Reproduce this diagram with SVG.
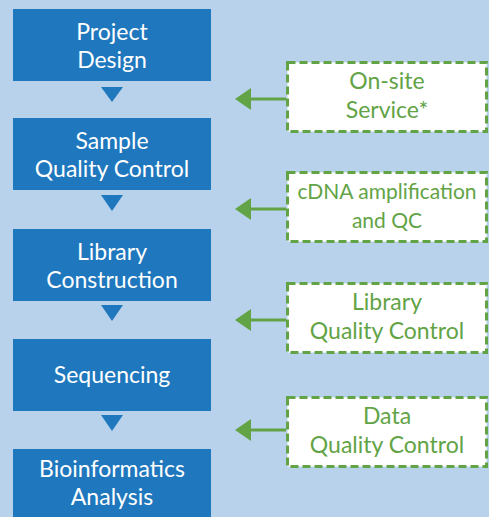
<svg xmlns="http://www.w3.org/2000/svg" width="489" height="517" viewBox="0 0 489 517">
<style>
.bg{fill:#b9d2eb}
.step{fill:#1f77bd}
.st{font-family:Lato,"Open Sans",sans-serif;font-size:23px;fill:#ffffff;text-anchor:middle}
.qc{fill:#ffffff;stroke:#62a346;stroke-width:3;stroke-dasharray:8,4}
.gt{font-family:Lato,"Open Sans",sans-serif;font-size:23px;fill:#62a346;text-anchor:middle}
.sm{font-size:21px}
.tri{fill:#1f77bd}
.ln{stroke:#62a346;stroke-width:3;fill:none}
.ah{fill:#62a346}
</style>
<rect class="bg" x="0" y="0" width="489" height="517"/>
<g id="project-design"><rect class="step" x="13" y="9" width="198" height="72"/><text class="st" x="112" y="40">Project</text><text class="st" x="112" y="68">Design</text></g>
<g id="sample-qc"><rect class="step" x="13" y="118" width="198" height="72"/><text class="st" x="112" y="149">Sample</text><text class="st" x="112" y="177">Quality Control</text></g>
<g id="library-construction"><rect class="step" x="13" y="229" width="198" height="72"/><text class="st" x="112" y="260">Library</text><text class="st" x="112" y="288">Construction</text></g>
<g id="sequencing"><rect class="step" x="13" y="339" width="198" height="72"/><text class="st" x="112" y="383">Sequencing</text></g>
<g id="bioinformatics"><rect class="step" x="13" y="449" width="198" height="72"/><text class="st" x="112" y="477">Bioinformatics</text><text class="st" x="112" y="505">Analysis</text></g>
<g id="onsite"><rect class="qc" x="287.5" y="62.5" width="199" height="69"/><text class="gt" x="387" y="89">On-site</text><text class="gt" x="387" y="118">Service*</text></g>
<g id="cdna"><rect class="qc" x="287.5" y="172.5" width="199" height="69"/><text class="gt sm" x="387" y="199">cDNA amplification</text><text class="gt sm" x="387" y="228">and QC</text></g>
<g id="library-qc"><rect class="qc" x="287.5" y="283.5" width="199" height="69"/><text class="gt" x="387" y="310">Library</text><text class="gt" x="387" y="339">Quality Control</text></g>
<g id="data-qc"><rect class="qc" x="287.5" y="397.5" width="199" height="69"/><text class="gt" x="387" y="424">Data</text><text class="gt" x="387" y="453">Quality Control</text></g>
<g id="connectors">
<polygon class="tri" points="101,87 123,87 112,102"/>
<polygon class="tri" points="101,195 123,195 112,211"/>
<polygon class="tri" points="101,305 123,305 112,321"/>
<polygon class="tri" points="101,415 123,415 112,431"/>
<line class="ln" x1="286" y1="99" x2="248" y2="99"/><polygon class="ah" points="235,99 251,88 251,110"/>
<line class="ln" x1="286" y1="209" x2="248" y2="209"/><polygon class="ah" points="235,209 251,198 251,220"/>
<line class="ln" x1="286" y1="320" x2="248" y2="320"/><polygon class="ah" points="235,320 251,309 251,331"/>
<line class="ln" x1="286" y1="430" x2="248" y2="430"/><polygon class="ah" points="235,430 251,419 251,441"/>
</g>
</svg>
